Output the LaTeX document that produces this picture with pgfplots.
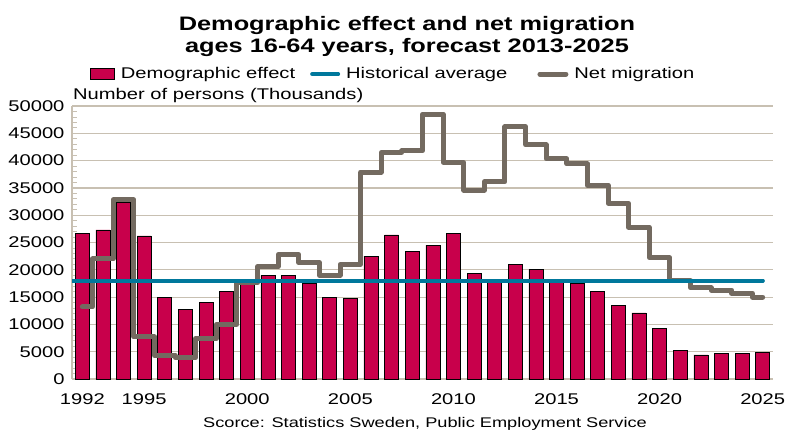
\documentclass[border=0pt]{standalone}
\usepackage{pgfplots}
\usepackage{pgfplotstable}
\pgfplotsset{compat=1.18}
\usepackage{fontspec}
\setmainfont{Liberation Sans}[FakeStretch=1.3]
\definecolor{barred}{HTML}{C8004B}
\definecolor{migr}{HTML}{736A60}
\definecolor{avgc}{HTML}{00789C}
\definecolor{gridc}{HTML}{C8C0B2}

\pgfplotstableread{
year demo migr
1992 26600 13200
1993 27300 22000
1994 32400 32800
1995 26200 7700
1996 15000 4300
1997 12800 3900
1998 14100 7400
1999 16000 10000
2000 17400 17600
2001 19000 20600
2002 19000 22800
2003 17600 21300
2004 14900 19000
2005 14800 21000
2006 22500 37900
2007 26400 41500
2008 23300 41800
2009 24500 48500
2010 26600 39700
2011 19400 34600
2012 18000 36100
2013 21000 46200
2014 20100 42900
2015 17900 40300
2016 17600 39400
2017 16100 35500
2018 13500 32200
2019 12100 27800
2020 9200 22200
2021 5300 18000
2022 4400 16700
2023 4700 16300
2024 4700 15700
2025 4900 15000
}\data

\begin{document}
\begin{tikzpicture}
\useasboundingbox (0,0) rectangle (786pt,429pt);
\begin{axis}[
  at={(72pt,50pt)}, anchor=south west,
  scale only axis, width=701pt, height=273pt,
  xmin=1991.5, xmax=2025.5, ymin=0, ymax=50000,
  axis lines=left,
  axis line style={-, draw=gridc, line width=1.2pt},
  ytick={0,5000,...,50000},
  scaled y ticks=false,
  minor y tick num=4,
  ymajorgrids,
  major grid style={draw=gridc, line width=1.2pt},
  tick style={draw=gridc, line width=0.8pt},
  major tick length=0pt, minor tick length=5pt,
  tick align=inside,
  xtick={1992,1995,2000,2005,2010,2015,2020,2025},
  tick label style={font=\fontsize{15.5}{18}\selectfont, text=black},
  xticklabel style={yshift=-11pt},
  yticklabel style={xshift=-4pt},
  /pgf/number format/assume math mode=true,
  /pgf/number format/1000 sep={},
  legend columns=3,
  legend cell align=left,
  legend style={at={(rel axis cs:0.0257,1.117)}, anchor=west, draw=none, fill=none,
    inner sep=0pt, nodes={inner sep=0pt, inner xsep=6pt}, font=\fontsize{15.5}{18}\selectfont,
    /tikz/column 2/.style={column sep=9pt},
    /tikz/column 4/.style={column sep=24pt}},
]
\addplot[ybar, bar width=0.68, fill=barred, draw=black, line width=0.6pt,
  legend image code/.code={\draw[fill=barred, draw=black, line width=0.6pt] (0pt,-5.5pt) rectangle (24pt,5.5pt);}]
  table[x=year, y=demo]{\data};
\addlegendentry{Demographic effect}
\addplot[avgc, line width=4pt, line cap=round,
  legend image code/.code={\draw[avgc, line width=4pt, line cap=round] (0pt,0pt) -- (26pt,0pt);}]
  coordinates {(1991.5,18000) (2025,18000)};
\addlegendentry{Historical average}
\addplot[const plot mark mid, migr, line width=5pt, line join=round, line cap=round,
  legend image code/.code={\draw[migr, line width=5pt, line cap=round] (0pt,0pt) -- (26pt,0pt);}]
  table[x=year, y=migr]{\data};
\addlegendentry{Net migration}
\addplot[avgc, line width=4pt, line cap=round, forget plot]
  coordinates {(1991.5,18000) (2025,18000)};
\end{axis}
\node[anchor=base, font=\bfseries\fontsize{19.5}{22}\selectfont] at (407pt,398pt) {Demographic effect and net migration};
\node[anchor=base, font=\bfseries\fontsize{19.5}{22}\selectfont] at (407pt,376pt) {ages 16-64 years, forecast 2013-2025};
\node[anchor=base west, inner sep=0pt, font=\fontsize{15.5}{18}\selectfont] at (73pt,329pt) {Number of persons (Thousands)};
\node[anchor=base, inner sep=0pt, font=\fontsize{14}{16}\selectfont] at (425pt,2pt) {Scorce: Statistics Sweden, Public Employment Service};
\end{tikzpicture}
\end{document}
